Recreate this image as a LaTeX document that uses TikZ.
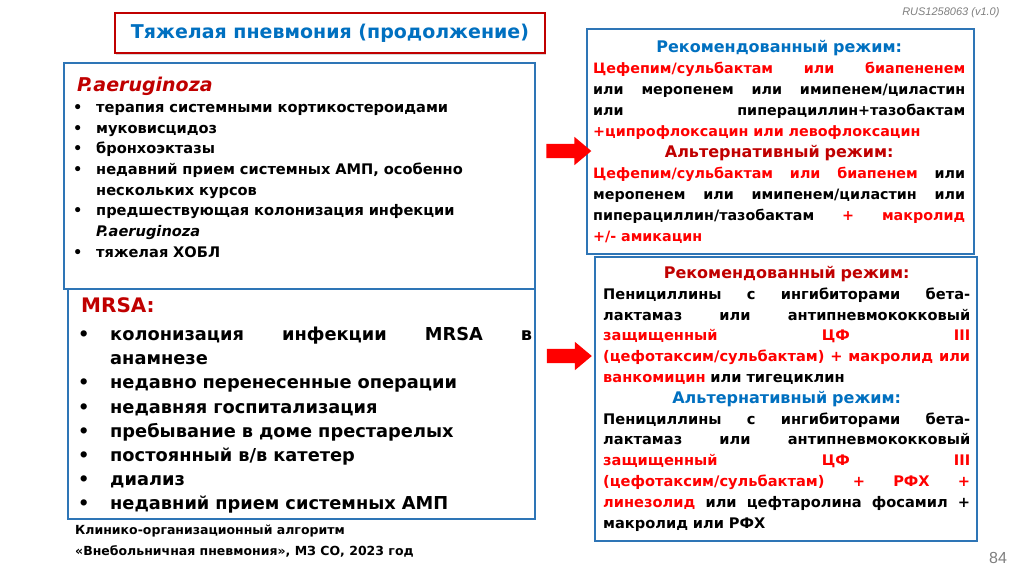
\documentclass[tikz,border=0pt]{standalone}
\usepackage{fontspec}
\setmainfont{DejaVu Sans}
\newfontfamily\notesans{Liberation Sans}
\usetikzlibrary{positioning,shapes.arrows,shadows}
\definecolor{slideblue}{HTML}{2E75B6}
\definecolor{headblue}{HTML}{0070C0}
\definecolor{darkred}{HTML}{C00000}
\definecolor{brightred}{HTML}{FF0000}
\definecolor{notegray}{HTML}{7F7F7F}
\newcommand{\bul}[1][23pt]{\makebox[#1][l]{\textbullet}}
% justified line: spaces must stretch again inside tikz nodes
\newcommand{\fl}[1]{\makebox[\linewidth][s]{\spaceskip=0pt\xspaceskip=0pt #1}}
\newcommand{\cl}[1]{\makebox[\linewidth][c]{#1}}
\newcommand{\rd}[1]{\textcolor{brightred}{#1}}

\begin{document}
\begin{tikzpicture}[x=1pt,y=-1pt,
  bluebox/.style={draw=slideblue,line width=2pt,anchor=north west,inner sep=0pt},
  boxtext/.style={anchor=north west,inner sep=0pt},
  redarrow/.style={single arrow,fill=brightred,draw=none,inner sep=7pt,minimum height=45pt,
    single arrow head extend=7pt,single arrow tip angle=80}]
  \useasboundingbox[fill=white] (0,0) rectangle (1024,574);
  % title
  \node[draw=darkred,line width=2pt,fill=white,minimum width=430pt,minimum height=40pt,
    drop shadow={shadow xshift=1pt,shadow yshift=-1.5pt,opacity=.3},
    font=\fontsize{19}{22}\selectfont\bfseries,text=headblue] (title) at (330,33)
    {Тяжелая пневмония (продолжение)};
  \node[anchor=east,font=\notesans\fontsize{11}{13}\selectfont\itshape,text=notegray] (docid) at (1003,13)
    {RUS1258063 (v1.0)};
  % left boxes
  \node[bluebox,minimum width=471pt,minimum height=226pt] (pabox) at (63,62) {};
  \node[bluebox,minimum width=467pt,minimum height=230pt] (mrsabox) at (67,288) {};
  \node[boxtext,font=\fontsize{19}{22}\selectfont\bfseries\itshape,text=darkred] (patitle)
    at ([xshift=14pt,yshift=-15pt]pabox.north west) {P.aeruginoza};
  \node[boxtext,text width=455pt,font=\fontsize{14.6}{20.7}\selectfont\bfseries] (palist)
    at ([xshift=10pt,yshift=-42pt]pabox.north west) {%
    \bul терапия системными кортикостероидами\\
    \bul муковисцидоз\\
    \bul бронхоэктазы\\
    \bul недавний прием системных АМП, особенно\\
    \hspace*{23pt}нескольких курсов\\
    \bul предшествующая колонизация инфекции\\
    \hspace*{23pt}\textit{P.aeruginoza}\\
    \bul тяжелая ХОБЛ};
  \node[boxtext,font=\fontsize{20}{24}\selectfont\bfseries,text=darkred] (mrsatitle)
    at ([xshift=14pt,yshift=-9pt]mrsabox.north west) {MRSA:};
  \node[boxtext,text width=454pt,font=\fontsize{17.8}{24.1}\selectfont\bfseries] (mrsalist)
    at ([xshift=11pt,yshift=-39pt]mrsabox.north west) {%
    \bul[32pt]\makebox[\dimexpr\linewidth-32pt][s]{\spaceskip=0pt колонизация инфекции MRSA в}\\
    \hspace*{32pt}анамнезе\\
    \bul[32pt]недавно перенесенные операции\\
    \bul[32pt]недавняя госпитализация\\
    \bul[32pt]пребывание в доме престарелых\\
    \bul[32pt]постоянный в/в катетер\\
    \bul[32pt]диализ\\
    \bul[32pt]недавний прием системных АМП};
  % right boxes
  \node[bluebox,minimum width=387pt,minimum height=225pt] (pareg) at (586,28) {};
  \node[bluebox,minimum width=382pt,minimum height=284pt] (mrsareg) at (594,256) {};
  \node[boxtext,text width=372pt,font=\fontsize{14.3}{21}\selectfont\bfseries] (paregtext)
    at ([xshift=7pt,yshift=-12pt]pareg.north west) {%
    \cl{\fontsize{16}{21}\selectfont\textcolor{headblue}{Рекомендованный режим:}}\\
    \fl{\rd{Цефепим/сульбактам или биапененем}}\\
    \fl{или меропенем или имипенем/циластин}\\
    \fl{или пиперациллин+тазобактам}\\
    \rd{+ципрофлоксацин или левофлоксацин}\\
    \cl{\fontsize{16}{21}\selectfont\textcolor{darkred}{Альтернативный режим:}}\\
    \fl{\rd{Цефепим/сульбактам или биапенем} или}\\
    \fl{меропенем или имипенем/циластин или}\\
    \fl{пиперациллин/тазобактам \rd{+ макролид}}\\
    \rd{+/- амикацин}};
  \node[boxtext,text width=367pt,font=\fontsize{14.6}{20.8}\selectfont\bfseries] (mrsaregtext)
    at ([xshift=9pt,yshift=-10pt]mrsareg.north west) {%
    \cl{\fontsize{16}{20.8}\selectfont\textcolor{darkred}{Рекомендованный режим:}}\\
    \fl{Пенициллины с ингибиторами бета-}\\
    \fl{лактамаз или антипневмококковый}\\
    \fl{\rd{защищенный ЦФ III}}\\
    \fl{\rd{(цефотаксим/сульбактам) + макролид или}}\\
    \rd{ванкомицин} или тигециклин\\
    \cl{\fontsize{16}{20.8}\selectfont\textcolor{headblue}{Альтернативный режим:}}\\
    \fl{Пенициллины с ингибиторами бета-}\\
    \fl{лактамаз или антипневмококковый}\\
    \fl{\rd{защищенный ЦФ III}}\\
    \fl{\rd{(цефотаксим/сульбактам) + РФХ +}}\\
    \fl{\rd{линезолид} или цефтаролина фосамил +}\\
    макролид или РФХ};
  % arrows
  \node[redarrow] (paarrow) at (564.5,151) {};
  \node[redarrow] (mrsaarrow) at (565,356) {};
  % source and page number
  \node[boxtext,align=left,font=\fontsize{12.5}{21}\selectfont\bfseries] (source) at (75,525)
    {Клинико-организационный алгоритм\\«Внебольничная пневмония», МЗ СО, 2023 год};
  \node[font=\notesans\fontsize{16}{18}\selectfont,text=notegray] (pagenum) at (998,558) {84};
\end{tikzpicture}
\end{document}
